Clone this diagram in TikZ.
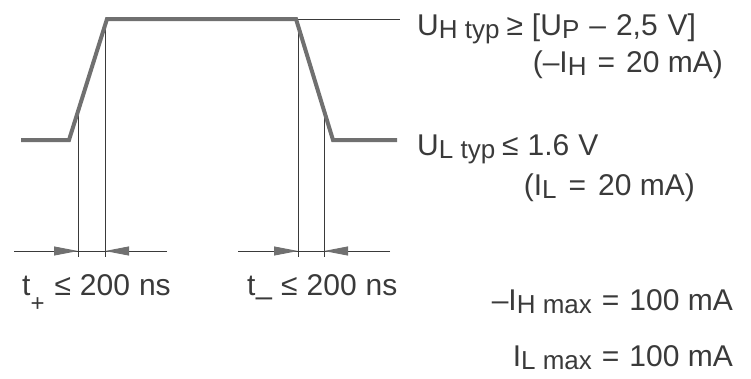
\documentclass[tikz,border=0pt]{standalone}
\usepackage{fontspec}
\setmainfont{Liberation Sans}
\usetikzlibrary{arrows.meta}
\definecolor{wave}{HTML}{707070}
\definecolor{ink}{HTML}{3A3A3A}
\newcommand{\lowsub}[1]{\raisebox{-3pt}{\fontsize{26}{26}\selectfont #1}}
\newcommand{\deepsub}[2]{\raisebox{#1}{\fontsize{24}{24}\selectfont #2}}
\newcommand{\gap}[1]{\hspace{#1pt}}
\begin{document}
\begin{tikzpicture}[x=1pt,y=-1pt,
  wavestyle/.style={draw=wave,line width=4pt,line join=miter},
  thinline/.style={draw=ink,line width=0.9pt},
  lab/.style={anchor=base west,inner sep=0pt,text=ink,font=\fontsize{30}{30}\selectfont},
  labr/.style={lab,anchor=base east},
  tipline/.style={draw=ink,line width=0.9pt,-{Triangle[length=24pt,width=9pt,fill=wave,color=wave]}}]
\useasboundingbox (0,0) rectangle (751,378);
% waveform points
\coordinate (l0) at (21,140);
\coordinate (l1) at (69,140);
\coordinate (h0) at (107,19);
\coordinate (h1) at (296,19);
\coordinate (r1) at (333,140);
\coordinate (r2) at (397,140);
\coordinate (hx) at (400,19);
% vertical markers
\coordinate (a1) at (78,111);
\coordinate (b1) at (105,25);
\coordinate (c1) at (298,25);
\coordinate (d1) at (324,111);
\coordinate (a2) at (78,257);
\coordinate (b2) at (105,257);
\coordinate (c2) at (298,257);
\coordinate (d2) at (324,257);
\draw[thinline] (a1) -- (a2);
\draw[thinline] (b1) -- (b2);
\draw[thinline] (c1) -- (c2);
\draw[thinline] (d1) -- (d2);
\draw[thinline] (h1) -- (hx);
\draw[wavestyle] (l0) -- (l1) -- (h0) -- (h1) -- (r1) -- (r2);
% time arrows
\coordinate (la) at (14,251);
\coordinate (lb) at (167,251);
\coordinate (ra) at (238,251);
\coordinate (rb) at (390,251);
\coordinate (ta) at (78,251);
\coordinate (tb) at (105,251);
\coordinate (tc) at (298,251);
\coordinate (td) at (324,251);
\draw[thinline] (la) -- (lb);
\draw[thinline] (ra) -- (rb);
\draw[tipline] (la) -- (ta);
\draw[tipline] (lb) -- (tb);
\draw[tipline] (ra) -- (tc);
\draw[tipline] (rb) -- (td);
% labels
\node[lab] (uh) at (417,35) {U\lowsub{H typ}\gap{7}≥\gap{9}[U\lowsub{P}\gap{10}–\gap{10}2,5\gap{10}V]};
\node[labr] (ih) at (723,72) {(–I\lowsub{H}\gap{11}=\gap{11}20 mA)};
\node[lab] (ul) at (417,155) {U\lowsub{L typ}\gap{7}≤\gap{9}1.6\gap{9}V};
\node[labr] (il) at (695,195) {(I\lowsub{L}\gap{12}=\gap{12}20 mA)};
\node[lab] (tp) at (22,295) {t\deepsub{-16pt}{+}\gap{10}≤\gap{9}200\gap{9}ns};
\node[lab] (tm) at (247,295) {t\raisebox{-11pt}{–}\gap{9}≤\gap{9}200\gap{9}ns};
\node[labr] (ihm) at (733,310) {–I\lowsub{H max}\gap{10}=\gap{10}100 mA};
\node[labr] (ilm) at (733,366) {I\lowsub{L max}\gap{10}=\gap{10}100 mA};
\end{tikzpicture}
\end{document}
